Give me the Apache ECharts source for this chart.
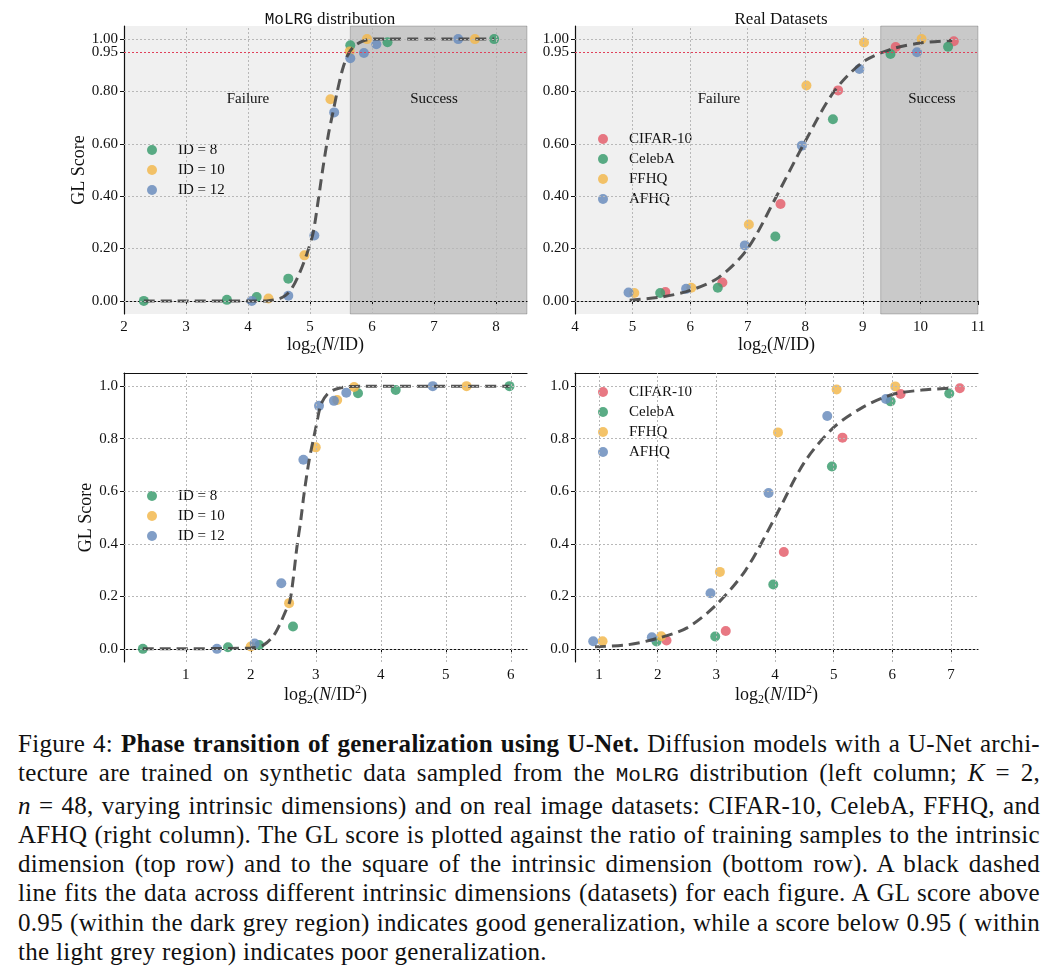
<!DOCTYPE html>
<html lang="en">
<head>
<meta charset="UTF-8">
<title>GL score phase transition</title>
<script src="https://cdn.jsdelivr.net/npm/echarts@6/dist/echarts.min.js"></script>
<style>
  body { margin: 0; background: #fff; }
  #chart { width: 1059px; height: 712px; }
  .cap { position: absolute; left: 18px; width: 1022px; top: 729px;
         font-family: "Liberation Serif", serif; font-size: 25px; line-height: 29.3px; color: #111;
         letter-spacing: 0.3px; }
  .cap div { white-space: nowrap; text-align: justify; text-align-last: justify; }
  .cap div.last { text-align-last: left; }
  .tt { font-family: "Liberation Mono", monospace; font-size: 21px; letter-spacing: 0; }
</style>
</head>
<body>
<div id="chart"></div>
<div class="cap" id="cap">
  <div>Figure 4: <b>Phase transition of generalization using U-Net.</b> Diffusion models with a U-Net archi-</div>
  <div>tecture are trained on synthetic data sampled from the <span class="tt">MoLRG</span> distribution (left column; <i>K</i> = 2,</div>
  <div><i>n</i> = 48, varying intrinsic dimensions) and on real image datasets: CIFAR-10, CelebA, FFHQ, and</div>
  <div>AFHQ (right column). The GL score is plotted against the ratio of training samples to the intrinsic</div>
  <div>dimension (top row) and to the square of the intrinsic dimension (bottom row). A black dashed</div>
  <div>line fits the data across different intrinsic dimensions (datasets) for each figure. A GL score above</div>
  <div>0.95 (within the dark grey region) indicates good generalization, while a score below 0.95 ( within</div>
  <div class="last">the light grey region) indicates poor generalization.</div>
</div>
<script>
var SERIF = '"Liberation Serif", "DejaVu Serif", serif';
var C_RED = '#e4606d', C_GREEN = '#3d9d70', C_ORANGE = '#f2b94f', C_BLUE = '#6b8dbd';

// MoLRG, x = log2(N/ID)
var molrgX8  = [2.32, 3.66, 4.14, 4.65, 5.65, 6.25, 7.97];
var molrgY8  = [0, 0.004, 0.015, 0.085, 0.976, 0.988, 1.0];
var molrgX10 = [4.33, 4.91, 5.33, 5.64, 5.92, 7.66];
var molrgY10 = [0.009, 0.174, 0.77, 0.953, 1.0, 1.0];
var molrgX12 = [4.06, 4.65, 5.07, 5.39, 5.65, 5.87, 6.07, 7.39];
var molrgY12 = [0, 0.02, 0.25, 0.72, 0.927, 0.947, 0.98, 1.0];
var molrgFitX = [2.32, 4.3, 4.5, 4.6, 4.7, 4.82, 4.95, 5.05, 5.13, 5.21, 5.3, 5.37, 5.44, 5.52, 5.6, 5.7, 5.85, 6.0, 7.97];
var molrgFitY = [0, 0, 0.008, 0.02, 0.045, 0.1, 0.18, 0.26, 0.38, 0.51, 0.64, 0.72, 0.8, 0.88, 0.935, 0.97, 0.992, 1.0, 1.0];

// MoLRG, x = log2(N/ID^2)
var molrgSqX8  = [0.34, 1.65, 2.13, 2.65, 3.65, 4.23, 5.98];
var molrgSqY8  = [0, 0.006, 0.015, 0.085, 0.973, 0.985, 1.0];
var molrgSqX10 = [2.0, 2.59, 3.0, 3.33, 3.59, 5.32];
var molrgSqY10 = [0.009, 0.174, 0.767, 0.947, 0.997, 1.0];
var molrgSqX12 = [1.48, 2.06, 2.47, 2.81, 3.05, 3.28, 3.47, 4.8];
var molrgSqY12 = [0, 0.02, 0.25, 0.72, 0.925, 0.944, 0.975, 1.0];
var molrgSqFitX = [0.34, 2.0, 2.2, 2.35, 2.45, 2.53, 2.6, 2.65, 2.71, 2.77, 2.82, 2.9, 3.0, 3.08, 3.18, 3.3, 3.45, 3.7, 5.98];
var molrgSqFitY = [0, 0.003, 0.015, 0.05, 0.095, 0.14, 0.18, 0.26, 0.387, 0.49, 0.59, 0.72, 0.84, 0.93, 0.97, 0.988, 0.997, 1.0, 1.0];

// real datasets, x = log2(N/ID)
var cifarX  = [5.57, 6.56, 7.57, 8.57, 9.57, 10.58];
var cifarY  = [0.034, 0.07, 0.37, 0.804, 0.97, 0.992];
var celebaX = [5.48, 6.48, 7.48, 8.48, 9.48, 10.48];
var celebaY = [0.03, 0.05, 0.246, 0.694, 0.943, 0.971];
var ffhqX   = [5.03, 6.02, 7.02, 8.02, 9.02, 10.02];
var ffhqY   = [0.03, 0.05, 0.292, 0.823, 0.987, 1.0];
var afhqX   = [4.93, 5.93, 6.95, 7.94, 8.94, 9.94];
var afhqY   = [0.032, 0.046, 0.212, 0.593, 0.886, 0.95];
var realFitX = [4.95, 5.5, 6.0, 6.5, 7.0, 7.5, 8.0, 8.5, 9.0, 9.5, 10.0, 10.55];
var realFitY = [0.003, 0.015, 0.04, 0.09, 0.2, 0.4, 0.61, 0.8, 0.912, 0.962, 0.985, 0.995];

// real datasets, x = log2(N/ID^2)
var cifarSqX  = [2.15, 3.16, 4.15, 5.15, 6.14, 7.15];
var cifarSqY  = [0.032, 0.068, 0.369, 0.804, 0.97, 0.992];
var celebaSqX = [1.98, 2.98, 3.97, 4.97, 5.97, 6.97];
var celebaSqY = [0.028, 0.047, 0.245, 0.694, 0.942, 0.972];
var ffhqSqX   = [1.06, 2.06, 3.06, 4.05, 5.05, 6.05];
var ffhqSqY   = [0.029, 0.048, 0.293, 0.824, 0.987, 0.999];
var afhqSqX   = [0.9, 1.9, 2.9, 3.89, 4.89, 5.89];
var afhqSqY   = [0.029, 0.044, 0.212, 0.593, 0.886, 0.951];
var realSqFitX = [0.93, 1.47, 2.0, 2.5, 3.0, 3.5, 4.0, 4.5, 5.0, 5.5, 6.0, 6.5, 6.98];
var realSqFitY = [0.008, 0.015, 0.04, 0.08, 0.168, 0.3, 0.5, 0.71, 0.843, 0.92, 0.968, 0.985, 0.992];

// ticks
var yTicks = [0, 0.2, 0.4, 0.6, 0.8, 1.0];
var threshold = 0.95;
var xTicksA = [2, 3, 4, 5, 6, 7, 8];
var xTicksB = [4, 5, 6, 7, 8, 9, 10, 11];
var xTicksC = [1, 2, 3, 4, 5, 6];
var xTicksD = [1, 2, 3, 4, 5, 6, 7];
var successStartA = 5.65, successStartB = 9.31;

function pts(xs, ys) { return xs.map(function (x, i) { return [x, ys[i]]; }); }

var nameRich = {
  t: { fontFamily: SERIF, fontSize: 18, color: '#111', lineHeight: 22 },
  i: { fontFamily: SERIF, fontSize: 18, color: '#111', fontStyle: 'italic', lineHeight: 22 },
  s: { fontFamily: SERIF, fontSize: 12, color: '#111', verticalAlign: 'bottom', lineHeight: 12 },
  p: { fontFamily: SERIF, fontSize: 12, color: '#111', verticalAlign: 'top', lineHeight: 12 }
};

function xAxisOf(gi, min, max, ticks, name) {
  return {
    type: 'value', gridIndex: gi, min: min, max: max,
    name: name, nameLocation: 'middle', nameGap: 20,
    nameTextStyle: { rich: nameRich },
    axisLine: { show: true, lineStyle: { color: '#111', width: 1.2 } },
    axisTick: { show: true, length: 4, customValues: ticks, lineStyle: { color: '#111' } },
    axisLabel: { customValues: ticks, hideOverlap: false, showMinLabel: true, showMaxLabel: true,
      color: '#111', fontFamily: SERIF, fontSize: 15, margin: 6 },
    splitLine: { show: false }
  };
}
function topSpine(gi, min, max) {
  return {
    type: 'value', gridIndex: gi, min: min, max: max, position: 'top',
    axisLine: { show: true, lineStyle: { color: '#111', width: 1.2 } },
    axisTick: { show: false }, axisLabel: { show: false }, splitLine: { show: false }
  };
}
function yAxisOf(gi, ticks, digits, name, gap, lineOn) {
  return {
    type: 'value', gridIndex: gi, min: -0.05, max: 1.05, position: 'left',
    name: name, nameLocation: 'middle', nameGap: gap,
    nameTextStyle: { fontFamily: SERIF, fontSize: 18, color: '#111' },
    axisLine: { show: lineOn, lineStyle: { color: '#111', width: 1.2 } },
    axisTick: { show: true, length: 4, customValues: ticks, lineStyle: { color: '#111' } },
    axisLabel: { customValues: ticks, showMinLabel: true, showMaxLabel: true,
      color: '#111', fontFamily: SERIF, fontSize: 15, margin: 6,
      formatter: function (v) { return v.toFixed(digits); } },
    splitLine: { show: false }
  };
}

// dotted grid, shaded success zone, threshold line and region labels
function backdrop(gi, xGrid, yGrid, shade, words) {
  var lines = [];
  xGrid.forEach(function (v) { lines.push({ xAxis: v }); });
  yGrid.forEach(function (v) { lines.push({ yAxis: v }); });
  if (shade) {
    lines.push({ yAxis: threshold, lineStyle: { color: '#e0405a', type: [2, 2], width: 1 } });
  }
  var s = {
    type: 'line', xAxisIndex: gi, yAxisIndex: gi, data: [], silent: true, z: 1,
    markLine: {
      silent: true, symbol: ['none', 'none'], label: { show: false },
      lineStyle: { color: '#b8b8b8', type: [2, 2], width: 1 }, data: lines
    }
  };
  if (shade) {
    s.markArea = {
      silent: true, itemStyle: { color: 'rgba(0,0,0,0.16)', borderColor: 'rgba(0,0,0,0.25)', borderWidth: 0.8 },
      data: [[{ xAxis: shade[0] }, { xAxis: shade[1] }]]
    };
    s.markPoint = {
      silent: true, symbol: 'circle', symbolSize: 1, itemStyle: { color: 'rgba(0,0,0,0)' },
      label: { show: true, position: 'inside', formatter: '{b}', color: '#111', fontFamily: SERIF, fontSize: 15 },
      data: words
    };
  }
  return s;
}
function dots(gi, name, xs, ys, color) {
  return {
    type: 'scatter', name: name, xAxisIndex: gi, yAxisIndex: gi, data: pts(xs, ys),
    symbolSize: 10, itemStyle: { color: color, opacity: 0.85 }, z: 3
  };
}
function fit(gi, xs, ys) {
  return {
    type: 'line', xAxisIndex: gi, yAxisIndex: gi, data: pts(xs, ys), smooth: 0.3,
    symbol: 'none', silent: true, z: 4,
    lineStyle: { color: '#444', width: 3, type: [11, 6], opacity: 0.9 }
  };
}
function legendAt(left, top, names) {
  return {
    orient: 'vertical', left: left, top: top, padding: 0, data: names, icon: 'circle',
    itemWidth: 10, itemHeight: 10, itemGap: 4, selectedMode: false,
    textStyle: { fontFamily: SERIF, fontSize: 15, color: '#111', lineHeight: 16, padding: [0, 0, 0, 16] }
  };
}

var idNames = ['ID = 8', 'ID = 10', 'ID = 12'];
var setNames = ['CIFAR-10', 'CelebA', 'FFHQ', 'AFHQ'];

var chart = echarts.init(document.getElementById('chart'));
chart.setOption({
  animation: false,
  title: [
    { text: '{m|MoLRG}{t| distribution}', left: 325, top: 6, textAlign: 'center',
      textStyle: { fontWeight: 'normal', rich: {
        m: { fontFamily: '"Liberation Mono", monospace', fontSize: 16, fontWeight: 'normal', color: '#111' },
        t: { fontFamily: SERIF, fontSize: 17, fontWeight: 'normal', color: '#111' } } } },
    { text: 'Real Datasets', left: 776, top: 6, textAlign: 'center',
      textStyle: { fontFamily: SERIF, fontSize: 17, fontWeight: 'normal', color: '#111' } }
  ],
  grid: [
    { left: 124, top: 26, width: 403, height: 288, show: true, backgroundColor: '#f0f0f0', borderWidth: 0 },
    { left: 575, top: 26, width: 403, height: 288, show: true, backgroundColor: '#f0f0f0', borderWidth: 0 },
    { left: 124, top: 373, width: 403, height: 289 },
    { left: 575, top: 373, width: 403, height: 289 }
  ],
  xAxis: [
    xAxisOf(0, 2, 8.5, xTicksA, '{t|log}{s|2}{t|(}{i|N}{t|/ID)}'),
    xAxisOf(1, 4, 11, xTicksB, '{t|log}{s|2}{t|(}{i|N}{t|/ID)}'),
    xAxisOf(2, 0.05, 6.25, xTicksC, '{t|log}{s|2}{t|(}{i|N}{t|/ID}{p|2}{t|)}'),
    xAxisOf(3, 0.59, 7.46, xTicksD, '{t|log}{s|2}{t|(}{i|N}{t|/ID}{p|2}{t|)}'),
    topSpine(2, 0.05, 6.25),
    topSpine(3, 0.59, 7.46)
  ],
  yAxis: [
    yAxisOf(0, yTicks, 2, 'GL Score', 33, true),
    yAxisOf(1, yTicks, 2, '', 30, true),
    yAxisOf(2, yTicks, 1, 'GL Score', 28, true),
    yAxisOf(3, yTicks, 1, '', 28, true),
    // the 0.95 threshold tick sits on its own axis so it is not dropped as an overlap
    yAxisOf(0, [threshold], 2, '', 30, false),
    yAxisOf(1, [threshold], 2, '', 30, false)
  ],
  legend: [
    legendAt(147, 142, idNames),
    legendAt(598, 131, setNames),
    legendAt(147, 488, idNames),
    legendAt(598, 384, setNames)
  ],
  series: [
    backdrop(0, [3, 4, 5, 6, 7, 8], yTicks, [successStartA, 8.5],
      [{ name: 'Failure', coord: [4.0, 0.77] }, { name: 'Success', coord: [7.0, 0.77] }]),
    dots(0, 'ID = 8', molrgX8, molrgY8, C_GREEN),
    dots(0, 'ID = 10', molrgX10, molrgY10, C_ORANGE),
    dots(0, 'ID = 12', molrgX12, molrgY12, C_BLUE),
    fit(0, molrgFitX, molrgFitY),

    backdrop(1, [5, 6, 7, 8, 9, 10], yTicks, [successStartB, 11],
      [{ name: 'Failure', coord: [6.5, 0.77] }, { name: 'Success', coord: [10.2, 0.77] }]),
    dots(1, 'CIFAR-10', cifarX, cifarY, C_RED),
    dots(1, 'CelebA', celebaX, celebaY, C_GREEN),
    dots(1, 'FFHQ', ffhqX, ffhqY, C_ORANGE),
    dots(1, 'AFHQ', afhqX, afhqY, C_BLUE),
    fit(1, realFitX, realFitY),

    backdrop(2, xTicksC, yTicks, null, null),
    dots(2, 'ID = 8', molrgSqX8, molrgSqY8, C_GREEN),
    dots(2, 'ID = 10', molrgSqX10, molrgSqY10, C_ORANGE),
    dots(2, 'ID = 12', molrgSqX12, molrgSqY12, C_BLUE),
    fit(2, molrgSqFitX, molrgSqFitY),

    backdrop(3, xTicksD, yTicks, null, null),
    dots(3, 'CIFAR-10', cifarSqX, cifarSqY, C_RED),
    dots(3, 'CelebA', celebaSqX, celebaSqY, C_GREEN),
    dots(3, 'FFHQ', ffhqSqX, ffhqSqY, C_ORANGE),
    dots(3, 'AFHQ', afhqSqX, afhqSqY, C_BLUE),
    fit(3, realSqFitX, realSqFitY)
  ]
});

// squeeze caption lines that are wider than the column
Array.prototype.forEach.call(document.querySelectorAll('#cap div'), function (line) {
  var ls = 0.3, n = 0;
  while (line.scrollWidth > line.clientWidth && n < 40) {
    ls -= 0.05; n++;
    line.style.letterSpacing = ls + 'px';
  }
});
</script>
</body>
</html>
